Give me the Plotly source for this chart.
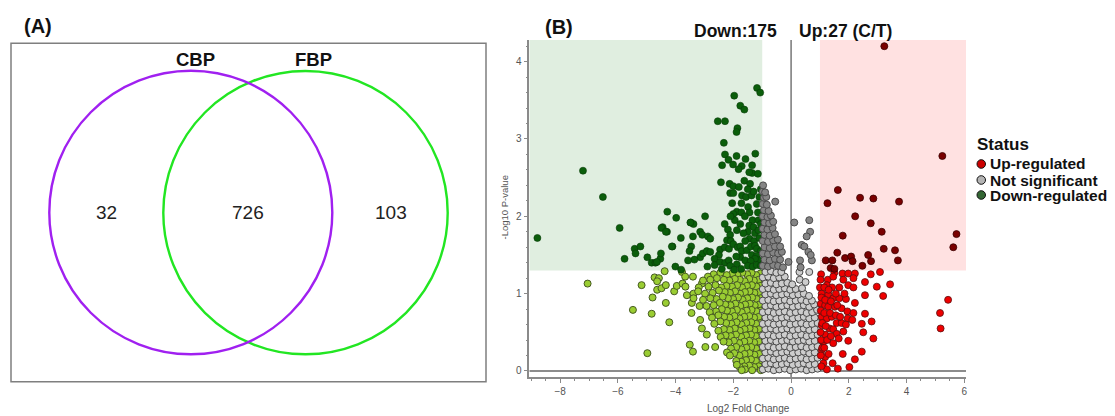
import plotly.graph_objects as go

W, H = 1115, 416
FONT = "Liberation Sans, Arial, sans-serif"

# ---------------- Panel A : Venn data ----------------
venn_sets = ["CBP", "FBP"]
venn_counts = [32, 726, 103]          # CBP only, shared, FBP only
venn_colors = ["#a020f0", "#22e622"]

# ---------------- Panel B : volcano data (log2FC, -log10 p) ----------------
down_sig = [
    (-1.18, 3.66), (-1.07, 3.60), (-1.97, 3.56), (-1.76, 3.43), (-1.62, 3.38), (-2.54, 3.23), (-2.29, 3.23),
    (-1.86, 3.14), (-1.89, 3.09), (-2.33, 2.95), (-2.29, 2.80), (-1.89, 2.78), (-1.24, 2.81), (-2.17, 2.73),
    (-1.58, 2.74), (-2.39, 2.66), (-2.01, 2.67), (-1.71, 2.65), (-1.82, 2.61), (-1.35, 2.66), (-1.35, 2.56),
    (-1.45, 2.57), (-7.21, 2.59), (-6.52, 2.25), (-8.79, 1.72), (-5.94, 1.85),
    (-2.43, 2.44), (-2.13, 2.42), (-2.00, 2.39), (-1.81, 2.38), (-1.62, 2.46), (-1.42, 2.42), (-2.11, 2.30),
    (-2.00, 2.30), (-1.70, 2.27), (-1.56, 2.25), (-1.37, 2.27), (-1.15, 2.55), (-1.05, 2.35), (-1.30, 2.32),
    (-1.50, 2.35), (-1.10, 2.25),
    (-2.04, 2.17), (-1.72, 2.17), (-1.49, 2.12), (-1.19, 2.16), (-1.88, 2.06), (-2.00, 2.03), (-1.72, 2.05),
    (-1.44, 2.05), (-1.15, 2.05), (-1.34, 1.95), (-1.13, 1.95), (-1.60, 2.00), (-1.95, 1.95), (-2.10, 2.00),
    (-2.30, 1.90),
    (-4.29, 2.06), (-3.98, 1.98), (-2.98, 2.00), (-3.47, 1.92), (-3.38, 1.90), (-4.45, 1.86), (-4.30, 1.80),
    (-4.49, 1.85), (-3.82, 1.72), (-3.40, 1.74), (-3.15, 1.80), (-3.08, 1.76), (-2.88, 1.74), (-2.80, 1.71),
    (-2.19, 1.83), (-2.11, 1.76), (-2.22, 1.69), (-1.88, 1.82), (-1.76, 1.90), (-1.50, 1.80), (-1.45, 1.88),
    (-1.30, 1.86), (-1.25, 1.78), (-1.13, 1.82), (-1.05, 1.90), (-1.44, 1.71), (-1.59, 1.68), (-1.65, 1.78),
    (-1.28, 1.68), (-1.10, 1.72),
    (-4.11, 1.61), (-3.46, 1.61), (-3.52, 1.55), (-3.15, 1.47), (-3.06, 1.52), (-2.92, 1.55), (-2.80, 1.54),
    (-2.46, 1.57), (-2.30, 1.60), (-2.15, 1.58), (-2.09, 1.68), (-2.00, 1.64), (-1.85, 1.60),
    (-1.76, 1.61), (-1.71, 1.55), (-1.53, 1.56), (-1.39, 1.61), (-1.25, 1.62), (-1.19, 1.58), (-1.05, 1.55),
    (-1.36, 1.50), (-1.76, 1.47), (-1.59, 1.43), (-1.19, 1.49), (-1.12, 1.43), (-1.25, 1.45), (-1.40, 1.42),
    (-1.90, 1.48), (-2.50, 1.50), (-2.65, 1.45),
    (-3.35, 1.44), (-3.57, 1.43), (-2.65, 1.37), (-2.46, 1.41), (-2.28, 1.40), (-2.16, 1.43),
    (-2.40, 1.32), (-2.11, 1.36), (-1.88, 1.38), (-1.97, 1.31), (-1.73, 1.32), (-1.50, 1.36), (-1.33, 1.35),
    (-1.19, 1.37), (-1.05, 1.36), (-4.01, 1.35), (-2.90, 1.35), (-3.81, 1.31),
    (-4.34, 1.80), (-5.42, 1.58), (-5.22, 1.61), (-5.39, 1.52), (-5.77, 1.45), (-4.98, 1.47), (-4.83, 1.40),
    (-4.70, 1.40), (-4.53, 1.45), (-4.51, 1.52), (-4.65, 1.41), (-4.13, 1.61), (-3.49, 1.92),
]

down_ns = [
    (-7.05, 1.13), (-5.18, 1.11), (-5.48, 0.79), (-4.98, 0.23), (-4.80, 0.95), (-4.83, 0.74), (-4.73, 1.21),
    (-4.58, 1.20), (-4.64, 1.16), (-4.64, 1.05), (-4.49, 1.07), (-4.38, 1.29), (-4.34, 1.11), (-4.34, 0.88),
    (-4.22, 0.63), (-4.05, 1.03), (-3.96, 1.10), (-3.78, 1.28), (-3.67, 1.22), (-3.40, 1.22), (-3.76, 1.13),
    (-3.66, 1.09), (-3.61, 0.98), (-3.38, 1.00), (-3.44, 0.88), (-3.45, 0.75), (-3.51, 0.34), (-3.40, 0.25),
    (-3.17, 0.84), (-3.15, 0.66), (-2.97, 0.31), (-2.63, 0.31), (-3.09, 0.55), (-2.92, 0.47), (-3.38, 0.94),
    (-3.09, 1.13),
    (-1.06, 1.26), (-1.21, 1.24), (-1.37, 1.27), (-1.52, 1.25), (-1.69, 1.27), (-1.86, 1.24), (-2.04, 1.26),
    (-2.23, 1.24), (-2.45, 1.27), (-2.68, 1.25), (-2.88, 1.22),
    (-1.12, 1.18), (-1.29, 1.17), (-1.45, 1.19), (-1.61, 1.16), (-1.78, 1.18), (-1.95, 1.19), (-2.14, 1.17),
    (-2.33, 1.18), (-2.57, 1.20), (-2.80, 1.18), (-3.05, 1.17),
    (-1.05, 1.10), (-1.20, 1.09), (-1.36, 1.11), (-1.53, 1.10), (-1.70, 1.08), (-1.87, 1.11), (-2.05, 1.09),
    (-2.24, 1.10), (-2.42, 1.08), (-2.62, 1.11), (-2.86, 1.09), (-3.20, 1.08),
    (-1.11, 1.02), (-1.27, 1.01), (-1.44, 1.03), (-1.60, 1.02), (-1.77, 1.00), (-1.94, 1.03), (-2.12, 1.01),
    (-2.30, 1.02), (-2.50, 1.04), (-2.72, 1.01), (-2.98, 1.00), (-3.22, 1.03),
    (-1.05, 0.94), (-1.19, 0.93), (-1.35, 0.95), (-1.52, 0.94), (-1.68, 0.92), (-1.84, 0.95), (-2.01, 0.93),
    (-2.19, 0.94), (-2.37, 0.96), (-2.58, 0.93), (-2.80, 0.94), (-3.05, 0.92),
    (-1.10, 0.86), (-1.26, 0.85), (-1.43, 0.87), (-1.59, 0.86), (-1.76, 0.84), (-1.93, 0.87), (-2.10, 0.85),
    (-2.28, 0.86), (-2.47, 0.88), (-2.68, 0.85), (-2.93, 0.84),
    (-1.05, 0.78), (-1.20, 0.77), (-1.37, 0.79), (-1.54, 0.78), (-1.71, 0.76), (-1.88, 0.79), (-2.05, 0.77),
    (-2.22, 0.78), (-2.40, 0.80), (-2.60, 0.77), (-2.82, 0.76),
    (-1.12, 0.70), (-1.28, 0.69), (-1.45, 0.71), (-1.62, 0.70), (-1.79, 0.68), (-1.96, 0.71), (-2.14, 0.69),
    (-2.32, 0.70), (-2.52, 0.72), (-2.74, 0.69),
    (-1.05, 0.62), (-1.21, 0.61), (-1.38, 0.63), (-1.55, 0.62), (-1.72, 0.60), (-1.89, 0.63), (-2.07, 0.61),
    (-2.25, 0.62), (-2.45, 0.64), (-2.66, 0.61),
    (-1.11, 0.54), (-1.27, 0.53), (-1.44, 0.55), (-1.61, 0.54), (-1.78, 0.52), (-1.95, 0.55), (-2.13, 0.53),
    (-2.33, 0.54), (-2.52, 0.52),
    (-1.06, 0.46), (-1.22, 0.45), (-1.39, 0.47), (-1.56, 0.46), (-1.73, 0.44), (-1.91, 0.47), (-2.09, 0.45),
    (-2.27, 0.46), (-2.44, 0.44),
    (-1.12, 0.38), (-1.28, 0.37), (-1.45, 0.39), (-1.62, 0.38), (-1.80, 0.36), (-1.98, 0.39), (-2.16, 0.37),
    (-2.34, 0.38),
    (-1.05, 0.30), (-1.21, 0.29), (-1.38, 0.31), (-1.55, 0.30), (-1.72, 0.28), (-1.90, 0.31), (-2.08, 0.29),
    (-2.22, 0.24),
    (-1.11, 0.22), (-1.27, 0.21), (-1.44, 0.23), (-1.61, 0.22), (-1.79, 0.20), (-1.97, 0.23), (-2.12, 0.20),
    (-1.06, 0.14), (-1.22, 0.13), (-1.39, 0.15), (-1.56, 0.14), (-1.73, 0.12), (-1.90, 0.13),
    (-1.12, 0.06), (-1.28, 0.05), (-1.45, 0.07), (-1.62, 0.06), (-1.78, 0.05), (-1.88, 0.08),
    (-1.05, 0.01), (-1.35, 0.01), (-1.60, 0.02), (-1.71, 0.01),
]

ns_high = [
    (-0.98, 1.36), (-0.80, 1.35), (-0.62, 1.37), (-0.45, 1.36), (-0.28, 1.34),
    (-0.92, 1.44), (-0.74, 1.43), (-0.56, 1.45), (-0.38, 1.44), (-0.09, 1.41),
    (-0.98, 1.52), (-0.80, 1.51), (-0.62, 1.53), (-0.45, 1.52), (-0.32, 1.54),
    (-0.92, 1.60), (-0.74, 1.59), (-0.56, 1.61), (-0.38, 1.61),
    (-0.98, 1.68), (-0.80, 1.67), (-0.62, 1.69), (-0.46, 1.70),
    (-0.92, 1.76), (-0.74, 1.75), (-0.56, 1.77),
    (-0.98, 1.84), (-0.82, 1.83), (-0.64, 1.85),
    (-0.92, 1.92), (-0.76, 1.91), (-0.62, 1.93),
    (-0.98, 2.00), (-0.82, 1.99), (-0.70, 2.01),
    (-0.94, 2.08), (-0.78, 2.07),
    (-0.98, 2.16), (-0.84, 2.15), (-0.55, 2.19),
    (-0.94, 2.24), (-0.86, 2.25),
    (-0.98, 2.32), (-0.90, 2.31),
    (-0.97, 2.40),
    (0.11, 1.92), (0.63, 1.95), (0.66, 1.80), (0.54, 1.74), (0.37, 1.63), (0.46, 1.61), (0.60, 1.54),
    (0.72, 1.43), (0.31, 1.43), (0.33, 1.34), (0.68, 1.50),
]

ns_low = [
    (-0.98, 0.02), (-0.79, 0.03), (-0.60, 0.01), (-0.41, 0.02), (-0.22, 0.03), (-0.03, 0.01), (0.16, 0.02),
    (0.35, 0.03), (0.54, 0.01), (0.73, 0.02), (0.92, 0.03),
    (-0.89, 0.09), (-0.70, 0.10), (-0.51, 0.08), (-0.32, 0.09), (-0.13, 0.10), (0.06, 0.08), (0.25, 0.09),
    (0.44, 0.10), (0.63, 0.08), (0.82, 0.09),
    (-0.98, 0.16), (-0.79, 0.17), (-0.60, 0.15), (-0.41, 0.16), (-0.22, 0.17), (-0.03, 0.15), (0.16, 0.16),
    (0.35, 0.17), (0.54, 0.15), (0.73, 0.16), (0.92, 0.17),
    (-0.89, 0.24), (-0.70, 0.25), (-0.51, 0.23), (-0.32, 0.24), (-0.13, 0.25), (0.06, 0.23), (0.25, 0.24),
    (0.44, 0.25), (0.63, 0.23), (0.82, 0.24),
    (-0.98, 0.31), (-0.79, 0.32), (-0.60, 0.30), (-0.41, 0.31), (-0.22, 0.32), (-0.03, 0.30), (0.16, 0.31),
    (0.35, 0.32), (0.54, 0.30), (0.73, 0.31), (0.92, 0.32),
    (-0.89, 0.39), (-0.70, 0.40), (-0.51, 0.38), (-0.32, 0.39), (-0.13, 0.40), (0.06, 0.38), (0.25, 0.39),
    (0.44, 0.40), (0.63, 0.38), (0.82, 0.39),
    (-0.98, 0.46), (-0.79, 0.47), (-0.60, 0.45), (-0.41, 0.46), (-0.22, 0.47), (-0.03, 0.45), (0.16, 0.46),
    (0.35, 0.47), (0.54, 0.45), (0.73, 0.46), (0.92, 0.47),
    (-0.89, 0.54), (-0.70, 0.55), (-0.51, 0.53), (-0.32, 0.54), (-0.13, 0.55), (0.06, 0.53), (0.25, 0.54),
    (0.44, 0.55), (0.63, 0.53), (0.82, 0.54),
    (-0.98, 0.61), (-0.79, 0.62), (-0.60, 0.60), (-0.41, 0.61), (-0.22, 0.62), (-0.03, 0.60), (0.16, 0.61),
    (0.35, 0.62), (0.54, 0.60), (0.73, 0.61), (0.92, 0.62),
    (-0.89, 0.69), (-0.70, 0.70), (-0.51, 0.68), (-0.32, 0.69), (-0.13, 0.70), (0.06, 0.68), (0.25, 0.69),
    (0.44, 0.70), (0.63, 0.68), (0.82, 0.69),
    (-0.98, 0.76), (-0.79, 0.77), (-0.60, 0.75), (-0.41, 0.76), (-0.22, 0.77), (-0.03, 0.75), (0.16, 0.76),
    (0.35, 0.77), (0.54, 0.75), (0.73, 0.76), (0.90, 0.79),
    (-0.89, 0.84), (-0.70, 0.85), (-0.51, 0.83), (-0.32, 0.84), (-0.13, 0.85), (0.06, 0.83), (0.25, 0.84),
    (0.44, 0.85), (0.63, 0.83), (0.80, 0.86),
    (-0.98, 0.91), (-0.79, 0.92), (-0.60, 0.90), (-0.41, 0.91), (-0.22, 0.92), (-0.03, 0.90), (0.16, 0.91),
    (0.35, 0.92), (0.54, 0.90), (0.72, 0.91),
    (-0.89, 0.99), (-0.70, 1.00), (-0.51, 0.98), (-0.32, 0.99), (-0.13, 1.00), (0.06, 0.98), (0.25, 0.99),
    (0.44, 1.00), (0.62, 0.97),
    (-0.98, 1.06), (-0.79, 1.07), (-0.60, 1.05), (-0.41, 1.06), (-0.22, 1.07), (-0.03, 1.05), (0.16, 1.06),
    (0.38, 1.07),
    (-0.89, 1.13), (-0.70, 1.14), (-0.51, 1.12), (-0.32, 1.13), (-0.13, 1.14), (0.04, 1.12), (0.30, 1.18),
    (0.50, 1.15),
    (-0.98, 1.21), (-0.79, 1.22), (-0.60, 1.20), (-0.41, 1.21), (-0.22, 1.22),
    (-0.89, 1.28), (-0.70, 1.29), (-0.51, 1.27), (-0.34, 1.28), (0.29, 1.28), (0.63, 1.28),
]

up_sig = [
    (3.23, 4.20), (5.24, 2.78), (1.62, 2.34), (1.26, 2.17), (2.39, 2.24), (2.85, 2.23), (3.74, 2.19),
    (2.22, 2.00), (2.76, 1.91), (1.79, 1.75), (3.14, 1.80), (3.21, 1.58), (3.60, 1.56), (3.70, 1.43),
    (5.73, 1.77), (5.62, 1.60), (1.20, 1.43), (1.43, 1.43), (1.60, 1.53), (1.87, 1.46), (2.08, 1.48),
    (2.13, 1.42), (2.67, 1.50), (2.77, 1.42), (2.47, 1.36), (1.37, 1.33), (1.50, 1.32),
]

up_ns = [
    (1.04, 1.25), (1.27, 1.18), (1.50, 1.27), (1.78, 1.26), (1.98, 1.26), (2.21, 1.26), (1.46, 1.22),
    (1.81, 1.18), (2.16, 1.20), (2.76, 1.25), (3.08, 1.28), (2.56, 1.15), (3.43, 1.12), (2.97, 1.09),
    (1.00, 1.08), (1.24, 1.11), (1.42, 1.08), (1.67, 1.08), (1.98, 1.11), (2.16, 1.08), (1.06, 1.00),
    (1.29, 0.99), (2.56, 0.98), (3.19, 0.97), (1.03, 0.87), (1.18, 0.85), (1.46, 0.94), (1.67, 0.94),
    (1.90, 0.93), (2.21, 0.88), (1.29, 0.83), (1.52, 0.83), (1.75, 0.81), (1.95, 0.77), (2.16, 0.75),
    (2.56, 0.74), (5.16, 0.75), (5.44, 0.92), (5.18, 0.55), (1.06, 0.70), (1.24, 0.68), (1.41, 0.70),
    (1.58, 0.62), (1.75, 0.62), (1.96, 0.68), (2.12, 0.66), (2.79, 0.64), (2.45, 0.61), (1.06, 0.59),
    (1.33, 0.55), (1.46, 0.54), (1.81, 0.51), (2.50, 0.50), (1.18, 0.47), (1.58, 0.48), (2.85, 0.42),
    (1.12, 0.38), (1.46, 0.36), (1.98, 0.39), (1.06, 0.27), (1.79, 0.22), (2.45, 0.25), (1.18, 0.18),
    (2.21, 0.15), (1.12, 0.10), (1.24, 0.02), (1.44, 0.10), (1.62, 0.03), (2.02, 0.05),
    (1.02, 1.18), (1.05, 0.95), (1.03, 0.78), (1.08, 0.62), (1.02, 0.50), (1.04, 0.40), (1.08, 0.30),
    (1.03, 0.20), (1.05, 0.06), (1.15, 1.08), (1.18, 0.92), (1.15, 0.75), (1.20, 0.58), (1.25, 0.40),
    (1.15, 0.30), (1.30, 0.22), (1.35, 0.75), (1.38, 0.90), (1.30, 1.05), (1.55, 1.00), (1.60, 0.85),
    (1.55, 0.72), (1.70, 0.70), (1.65, 0.42), (1.38, 0.45), (1.90, 0.60), (1.85, 1.00),
]

status_labels = ["Up-regulated", "Not significant", "Down-regulated"]
status_colors = ["#cc0000", "#b4b4b4", "#336633"]
count_labels = ["Down:175", "Up:27 (C/T)"]
fc_cut = 1.0
p_cut = 1.3
x_ticks = [-8, -6, -4, -2, 0, 2, 4, 6]
y_ticks = [0, 1, 2, 3, 4]

# ---------------- layout helpers (pixel -> paper) ----------------
def px(x):
    return x / W

def py(y):
    return 1 - y / H

X_MIN, X_MAX = -9.07, 6.06
Y_MIN, Y_MAX = -0.078, 4.28

fig = go.Figure()

groups = [
    (down_ns, "#9acd32", "#465a22", 1.0),
    (ns_low, "#cdcdcd", "#4a4a4a", 1.0),
    (up_ns, "#ee0000", "#5a1010", 0.8),
    (down_sig, "#0b5e0b", "#083a08", 0.6),
    (ns_high, "#858585", "#4a4a4a", 1.0),
    (up_sig, "#7a0000", "#3a0000", 0.8),
]
for pts, col, lc, lw in groups:
    fig.add_trace(go.Scatter(
        x=[p[0] for p in pts], y=[p[1] for p in pts], mode="markers",
        marker=dict(size=7, color=col, line=dict(color=lc, width=lw)),
        showlegend=False, hoverinfo="x+y", cliponaxis=False,
    ))

shapes = [
    # significance zones
    dict(type="rect", xref="x", yref="y", x0=X_MIN, x1=-fc_cut, y0=p_cut, y1=Y_MAX,
         fillcolor="#e0eee0", line=dict(width=0), layer="below"),
    dict(type="rect", xref="x", yref="y", x0=fc_cut, x1=X_MAX, y0=p_cut, y1=Y_MAX,
         fillcolor="#ffe1e1", line=dict(width=0), layer="below"),
    # zero lines
    dict(type="line", xref="x", yref="y", x0=X_MIN, x1=X_MAX, y0=0, y1=0,
         line=dict(color="#666666", width=1.5), layer="below"),
    dict(type="line", xref="x", yref="y", x0=0, x1=0, y0=Y_MIN, y1=Y_MAX,
         line=dict(color="#777777", width=1.5), layer="below"),
    # Venn frame
    dict(type="rect", xref="paper", yref="paper", x0=px(11), x1=px(486), y0=py(381.7), y1=py(43.3),
         line=dict(color="#7f7f7f", width=1.5), fillcolor="rgba(0,0,0,0)"),
    # Venn circles
    dict(type="circle", xref="paper", yref="paper", x0=px(163.3), x1=px(447.7), y0=py(354.3), y1=py(71),
         line=dict(color=venn_colors[1], width=2.4)),
    dict(type="circle", xref="paper", yref="paper", x0=px(49.3), x1=px(332.3), y0=py(354.3), y1=py(70.7),
         line=dict(color=venn_colors[0], width=2.4)),
]

# legend markers
leg_y = [164, 180, 195]
for c, yy in zip(status_colors, leg_y):
    shapes.append(dict(type="circle", xref="paper", yref="paper",
                       x0=px(977), x1=px(985.5), y0=py(yy + 4.3), y1=py(yy - 4.3),
                       fillcolor=c, line=dict(color="#111111", width=1)))

ann = []
def add_text(text, x, y, size, bold=False, color="#111111", xanchor="center", angle=0):
    ann.append(dict(text=f"<b>{text}</b>" if bold else text, x=px(x), y=py(y), xref="paper", yref="paper",
                    showarrow=False, xanchor=xanchor, yanchor="middle", textangle=angle,
                    font=dict(family=FONT, size=size, color=color)))

add_text("(A)", 37.5, 26, 20, bold=True)
add_text("(B)", 559, 26.5, 20, bold=True)
add_text(venn_sets[0], 195.5, 60, 18.5, bold=True)
add_text(venn_sets[1], 313.5, 60, 18.5, bold=True)
for val, xx in zip(venn_counts, [106.7, 248, 391.3]):
    add_text(str(val), xx, 213, 19, color="#222222")
add_text(count_labels[0], 778.5, 31, 17.5, bold=True, xanchor="right")
add_text(count_labels[1], 797, 31, 17.5, bold=True, xanchor="left")
add_text("Status", 975, 144, 17, bold=True, xanchor="left")
for lab, yy in zip(status_labels, leg_y):
    add_text(lab, 988, yy, 15.5, bold=True, xanchor="left")
add_text("Log2 Fold Change", 748, 408.5, 10, color="#555555")
add_text("-Log10 P-value", 503.5, 208, 9.5, color="#555555", angle=-90)

fig.update_layout(
    width=W, height=H, margin=dict(l=0, r=0, t=0, b=0),
    paper_bgcolor="white", plot_bgcolor="white",
    font=dict(family=FONT),
    shapes=shapes, annotations=ann,
    xaxis=dict(domain=[px(529.3), px(966)], range=[X_MIN, X_MAX], showgrid=False, zeroline=False,
               showline=True, linecolor="#8a8a8a", linewidth=1.5, ticks="outside", ticklen=4,
               tickcolor="#8a8a8a", tickvals=x_ticks, tickfont=dict(size=10, color="#555555"),
               minor=dict(dtick=0.5, tick0=0, ticks="outside", ticklen=2, tickcolor="#8a8a8a"),
               fixedrange=True),
    yaxis=dict(domain=[py(377), py(40)], range=[Y_MIN, Y_MAX], showgrid=False, zeroline=False,
               showline=True, linecolor="#8a8a8a", linewidth=1.5, ticks="outside", ticklen=4,
               tickcolor="#8a8a8a", tickvals=y_ticks, tickfont=dict(size=10, color="#555555"),
               minor=dict(dtick=0.2, tick0=0, ticks="outside", ticklen=2, tickcolor="#8a8a8a"),
               fixedrange=True),
)

fig.write_html("out.html")
